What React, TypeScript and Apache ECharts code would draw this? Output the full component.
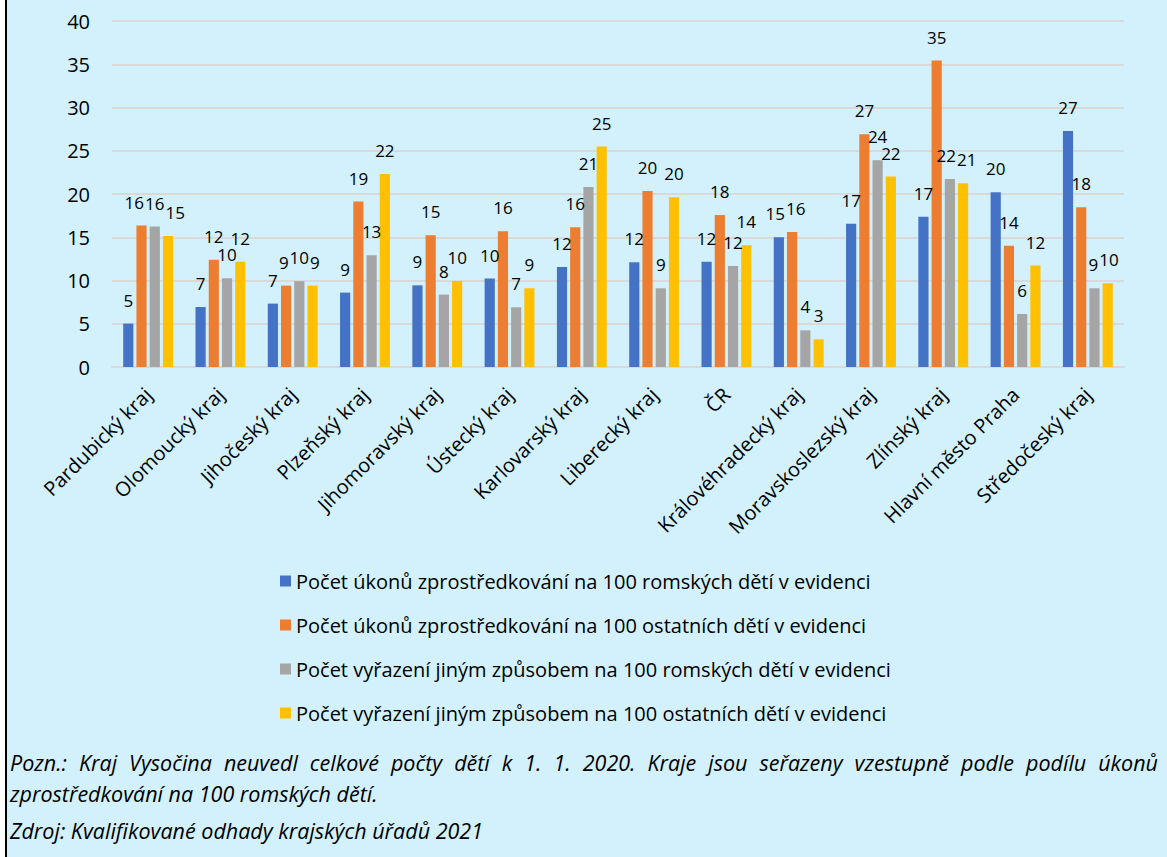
import React, { useEffect, useRef } from "react";
import * as echarts from "echarts";

const categories = [
  "Pardubický kraj",
  "Olomoucký kraj",
  "Jihočeský kraj",
  "Plzeňský kraj",
  "Jihomoravský kraj",
  "Ústecký kraj",
  "Karlovarský kraj",
  "Liberecký kraj",
  "ČR",
  "Královéhradecký kraj",
  "Moravskoslezský kraj",
  "Zlínský kraj",
  "Hlavní město Praha",
  "Středočeský kraj",
];

const seriesNames = [
  "Počet úkonů zprostředkování na 100 romských dětí v evidenci",
  "Počet úkonů zprostředkování na 100 ostatních dětí v evidenci",
  "Počet vyřazení jiným způsobem na 100 romských dětí v evidenci",
  "Počet vyřazení jiným způsobem na 100 ostatních dětí v evidenci",
];

const romaMediation = [5.02, 6.94, 7.33, 8.6, 9.44, 10.22, 11.56, 12.1, 12.18, 14.99, 16.57, 17.38, 20.2, 27.28];
const otherMediation = [16.35, 12.41, 9.41, 19.12, 15.22, 15.69, 16.15, 20.35, 17.57, 15.6, 26.9, 35.42, 14.03, 18.46];
const romaOtherWay = [16.23, 10.25, 9.9, 12.91, 8.37, 6.9, 20.81, 9.1, 11.68, 4.24, 23.9, 21.73, 6.13, 9.1];
const otherOtherWay = [15.14, 12.18, 9.41, 22.31, 9.94, 9.1, 25.48, 19.62, 14.07, 3.2, 22.01, 21.24, 11.72, 9.68];

const seriesColors = ["#4472C4", "#ED7D31", "#A5A5A5", "#FFC000"];

const yMin = 0;
const yMax = 40;
const yInterval = 5;

const noteLine1 = "Pozn.: Kraj Vysočina neuvedl celkové počty dětí k 1. 1. 2020. Kraje jsou seřazeny vzestupně podle podílu úkonů";
const noteLine2 = "zprostředkování na 100 romských dětí.";
const sourceLine = "Zdroj: Kvalifikované odhady krajských úřadů 2021";

const FONT = "'Open Sans', 'Noto Sans', sans-serif";
const BG = "#D2F1FC";

function justifiedWords(text: string, x0: number, x1: number, y: number, font: string) {
  const words = text.split(" ");
  const canvas = document.createElement("canvas");
  const ctx = canvas.getContext("2d")!;
  ctx.font = font;
  const widths = words.map((w) => ctx.measureText(w).width);
  const total = widths.reduce((a, b) => a + b, 0);
  const gap = (x1 - x0 - total) / (words.length - 1);
  let x = x0;
  return words.map((w, i) => {
    const el = {
      type: "text",
      x,
      y,
      style: { text: w, font, fill: "#000", textVerticalAlign: "middle" },
    };
    x += widths[i] + gap;
    return el;
  });
}

type Rect = { x: number; y: number; width: number; height: number };

export default function App() {
  const ref = useRef<HTMLDivElement>(null);
  useEffect(() => {
    if (!ref.current) return;
    const chart = echarts.init(ref.current, undefined, { renderer: "svg" });
    const data = [romaMediation, otherMediation, romaOtherWay, otherOtherWay];
    const noteFont = `italic 21.5px ${FONT}`;
    const rects: Record<string, Rect> = {};
    const shifts: Record<string, number> = {};
    const layoutFn = (p: any) => {
      const key = p.seriesIndex + "_" + p.dataIndex;
      if (!rects[key]) rects[key] = { ...p.labelRect };
      return shifts[key] ? { dx: shifts[key] } : {};
    };
    const option: any = {
      animation: false,
      backgroundColor: BG,
      textStyle: { fontFamily: FONT },
      grid: { left: 112, right: 43, top: 21, bottom: 490 },
      legend: {
        orient: "vertical",
        left: 275,
        top: 566,
        itemWidth: 11,
        itemHeight: 11,
        itemGap: 24,
        icon: "rect",
        textStyle: { fontSize: 20, lineHeight: 20, color: "#000", fontFamily: FONT },
        data: seriesNames,
      },
      xAxis: {
        type: "category",
        data: categories,
        axisLine: { lineStyle: { color: "#D9D9D9", width: 2 } },
        axisTick: { show: false },
        axisLabel: {
          interval: 0,
          rotate: 45,
          margin: 24,
          fontSize: 20,
          color: "#000",
          fontFamily: FONT,
        },
      },
      yAxis: {
        type: "value",
        min: yMin,
        max: yMax,
        interval: yInterval,
        axisLine: { show: false },
        axisTick: { show: false },
        axisLabel: { fontSize: 20, color: "#000", margin: 22, fontFamily: FONT },
        splitLine: { lineStyle: { color: "#D9D9D9", width: 2 } },
      },
      series: seriesNames.map((name, i) => ({
        name,
        type: "bar",
        data: data[i],
        barGap: "30%",
        barCategoryGap: "31%",
        itemStyle: { color: seriesColors[i] },
        labelLayout: layoutFn,
        label: {
          show: true,
          position: "top",
          distance: 15,
          fontSize: 17,
          color: "#000",
          fontFamily: FONT,
          formatter: (p: any) => String(Math.round(p.value)),
        },
      })),
      graphic: [
        { type: "rect", shape: { x: 0, y: 0, width: 5, height: 857 }, style: { fill: "#fff" } },
        { type: "rect", shape: { x: 5, y: 0, width: 2, height: 857 }, style: { fill: "#000" } },
        ...justifiedWords(noteLine1, 10, 1158, 762, noteFont),
        {
          type: "text",
          x: 10,
          y: 793,
          style: { text: noteLine2, font: noteFont, fill: "#000", textVerticalAlign: "middle" },
        },
        {
          type: "text",
          x: 10,
          y: 830,
          style: { text: sourceLine, font: noteFont, fill: "#000", textVerticalAlign: "middle" },
        },
      ],
    };
    chart.setOption(option);

    // spread horizontally the data labels that collide within a category
    categories.forEach((_, j) => {
      const items = data.map((_, i) => {
        const r = rects[i + "_" + j];
        return r ? { cx: r.x + r.width / 2, cy: r.y + r.height / 2, w: r.width, h: r.height } : null;
      });
      if (items.some((it) => !it)) return;
      const its = items as { cx: number; cy: number; w: number; h: number }[];
      let start = 0;
      while (start < its.length) {
        let end = start;
        while (
          end + 1 < its.length &&
          Math.abs(its[end + 1].cy - its[end].cy) < its[end].h * 0.75 &&
          its[end + 1].cx - its[end].cx < (its[end].w + its[end + 1].w) / 2 + 1
        ) {
          end++;
        }
        if (end > start) {
          const pos = its.slice(start, end + 1).map((it) => it.cx);
          for (let k = 1; k < pos.length; k++) {
            const a = its[start + k - 1];
            const b = its[start + k];
            pos[k] = Math.max(pos[k], pos[k - 1] + (a.w + b.w) / 2 + 1);
          }
          const disp = pos.map((p, k) => p - its[start + k].cx);
          const mean = disp.reduce((s, d) => s + d, 0) / disp.length;
          disp.forEach((d, k) => {
            shifts[start + k + "_" + j] = d - mean;
          });
        }
        start = end + 1;
      }
    });
    chart.setOption({
      series: seriesNames.map(() => ({ labelLayout: layoutFn })),
    });
    return () => chart.dispose();
  }, []);
  return (
    <div
      ref={ref}
      style={{ position: "fixed", left: 0, top: 0, width: 1167, height: 857 }}
    />
  );
}
